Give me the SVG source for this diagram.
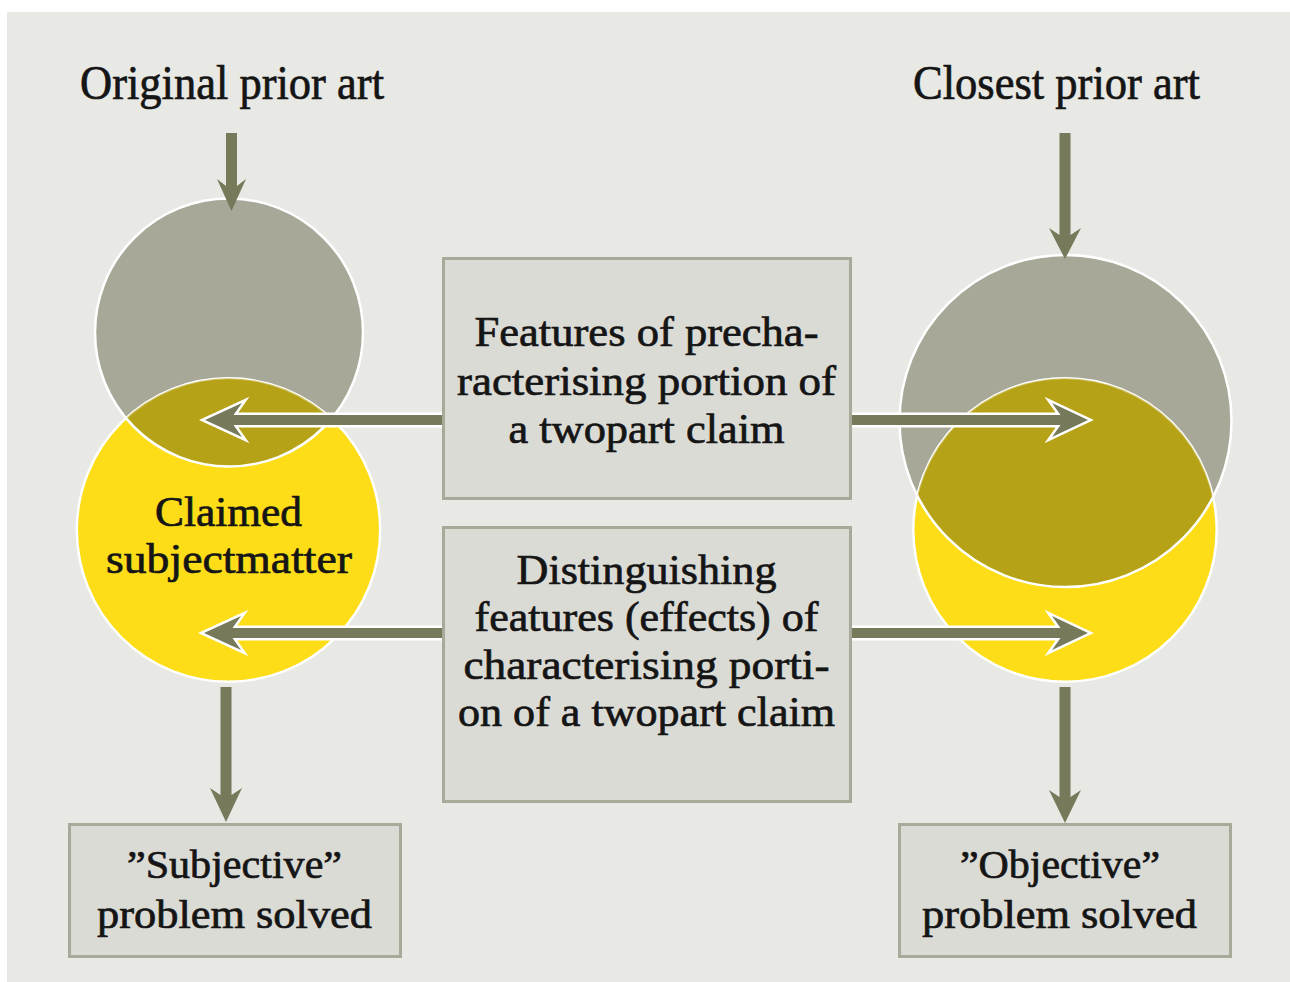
<svg xmlns="http://www.w3.org/2000/svg" width="1290" height="982" viewBox="0 0 1290 982">
<defs>
<style>
.bg{fill:#e8e8e4}
.gray{fill:#a8a899;stroke:#fff;stroke-width:2.5}
.yellow{fill:#fcdd18;stroke:#fff;stroke-width:2.5}
.overlap{fill:#b6a216}
.edge{fill:none;stroke:#fff;stroke-width:2.5}
.faint{fill:none;stroke:#fff;stroke-width:2;stroke-opacity:0.35}
.box{fill:#dbdbd6;stroke:#a8a998;stroke-width:3}
.arrow{fill:#767a5b}
.harrow{fill:#767a5b;stroke:#fff;stroke-width:5;paint-order:stroke;stroke-linejoin:miter}
text{font-family:"Liberation Serif","Times New Roman",serif;fill:#151515;stroke:#151515;stroke-width:0.7;text-anchor:middle}
.t{font-size:42px}
.title{font-size:48px}
.s{font-size:40px}
</style>
<clipPath id="cLG"><circle cx="229" cy="332.5" r="134"/></clipPath>
<clipPath id="cLY"><circle cx="228.5" cy="530" r="151.7"/></clipPath>
<clipPath id="cRG"><circle cx="1065.5" cy="421" r="166"/></clipPath>
<clipPath id="cRY"><circle cx="1065" cy="530" r="151.7"/></clipPath>
</defs>
<rect x="0" y="0" width="1290" height="982" fill="#ffffff"/>
<rect class="bg" x="7" y="12" width="1283" height="970"/>

<g id="title-original">
<text class="title" x="232" y="99" textLength="304" lengthAdjust="spacingAndGlyphs">Original prior art</text>
</g>
<g id="title-closest">
<text class="title" x="1056.5" y="99" textLength="287" lengthAdjust="spacingAndGlyphs">Closest prior art</text>
</g>

<g id="left-circles">
<circle class="gray" cx="229" cy="332.5" r="134"/>
<circle class="yellow" cx="228.5" cy="530" r="151.7"/>
<circle class="overlap" cx="228.5" cy="530" r="151.7" clip-path="url(#cLG)"/>
<circle class="edge" cx="229" cy="332.5" r="134" clip-path="url(#cLY)"/>
<circle class="faint" cx="228.5" cy="530" r="151.7" clip-path="url(#cLG)"/>
<text class="t" x="228.5" y="526" textLength="147" lengthAdjust="spacingAndGlyphs">Claimed</text>
<text class="t" x="229" y="573" textLength="246" lengthAdjust="spacingAndGlyphs">subjectmatter</text>
</g>

<g id="right-circles">
<circle class="gray" cx="1065.5" cy="421" r="166"/>
<circle class="yellow" cx="1065" cy="530" r="151.7"/>
<circle class="overlap" cx="1065" cy="530" r="151.7" clip-path="url(#cRG)"/>
<circle class="edge" cx="1065.5" cy="421" r="166" clip-path="url(#cRY)"/>
<circle class="faint" cx="1065" cy="530" r="151.7" clip-path="url(#cRG)"/>
</g>

<g id="connectors">
<path class="arrow" d="M226,133 L237,133 L237,186 L246,179 L231.5,211 L217,179 L226,186 Z"/>
<path class="arrow" d="M1059.5,133 L1070.5,133 L1070.5,235 L1081,228 L1065,259 L1049,228 L1059.5,235 Z"/>
<path class="arrow" d="M220.5,687 L231.5,687 L231.5,795 L242,788 L226,822 L210,788 L220.5,795 Z"/>
<path class="arrow" d="M1059.5,687 L1070.5,687 L1070.5,797 L1081,790 L1065,823 L1049,790 L1059.5,797 Z"/>
<path class="harrow" d="M443,415 L233.5,415 L242,403 L205,420 L242,437 L233.5,425 L443,425 Z"/>
<path class="harrow" d="M851,415 L1060.5,415 L1052,403 L1088,420 L1052,437 L1060.5,425 L851,425 Z"/>
<path class="harrow" d="M443,628 L232.5,628 L241,616 L204,633 L241,650 L232.5,638 L443,638 Z"/>
<path class="harrow" d="M851,628 L1060.5,628 L1052,616 L1088,633 L1052,650 L1060.5,638 L851,638 Z"/>
</g>

<g id="box-precharacterising">
<rect class="box" x="443.5" y="258.5" width="407" height="240"/>
<text class="t" x="646.5" y="346" textLength="344" lengthAdjust="spacingAndGlyphs">Features of precha-</text>
<text class="t" x="646.5" y="394.5" textLength="379" lengthAdjust="spacingAndGlyphs">racterising portion of</text>
<text class="t" x="646.5" y="443" textLength="276" lengthAdjust="spacingAndGlyphs">a twopart claim</text>
</g>

<g id="box-distinguishing">
<rect class="box" x="443.5" y="527.5" width="407" height="274"/>
<text class="t" x="646.5" y="584" textLength="260" lengthAdjust="spacingAndGlyphs">Distinguishing</text>
<text class="t" x="646.5" y="631" textLength="344" lengthAdjust="spacingAndGlyphs">features (effects) of</text>
<text class="t" x="646.5" y="678.5" textLength="366" lengthAdjust="spacingAndGlyphs">characterising porti-</text>
<text class="t" x="646.5" y="726" textLength="377" lengthAdjust="spacingAndGlyphs">on of a twopart claim</text>
</g>

<g id="box-subjective">
<rect class="box" x="69.5" y="824.5" width="331" height="132"/>
<text class="s" x="234.5" y="878" textLength="215" lengthAdjust="spacingAndGlyphs">”Subjective”</text>
<text class="s" x="234.5" y="928" textLength="275" lengthAdjust="spacingAndGlyphs">problem solved</text>
</g>

<g id="box-objective">
<rect class="box" x="899.5" y="824.5" width="331" height="132"/>
<text class="s" x="1060" y="878" textLength="200" lengthAdjust="spacingAndGlyphs">”Objective”</text>
<text class="s" x="1059.5" y="928" textLength="275" lengthAdjust="spacingAndGlyphs">problem solved</text>
</g>
</svg>
